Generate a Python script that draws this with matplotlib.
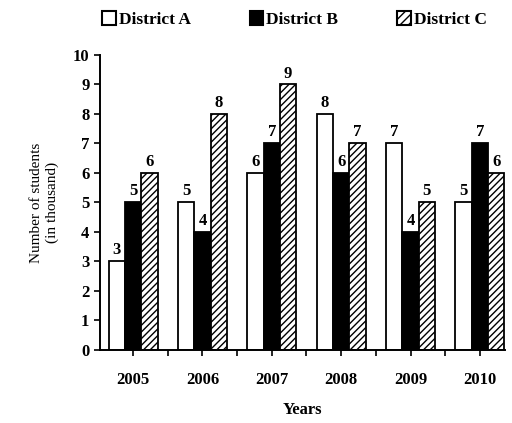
import numpy as np
import matplotlib
matplotlib.use('Agg')
import matplotlib.pyplot as plt
from matplotlib.patches import Patch

plt.rcParams.update({'font.family': 'Liberation Serif', 'font.weight': 'bold',
                     'hatch.linewidth': 1.0})

years = ['2005', '2006', '2007', '2008', '2009', '2010']
district_a = [3, 5, 6, 8, 7, 5]
district_b = [5, 4, 7, 6, 4, 7]
district_c = [6, 8, 9, 7, 5, 6]

fig = plt.figure(figsize=(5.12, 4.23), dpi=100)
ax = fig.add_axes([0.195, 0.173, 0.791, 0.697])

x = np.arange(len(years))
w = 0.235
bars_a = ax.bar(x - w, district_a, w, color='white', edgecolor='black', linewidth=1.3)
bars_b = ax.bar(x, district_b, w, color='black', edgecolor='black', linewidth=1.3)
bars_c = ax.bar(x + w, district_c, w, color='white', edgecolor='black', linewidth=1.3, hatch='/////')

for bars in (bars_a, bars_b, bars_c):
    for b in bars:
        ax.text(b.get_x() + b.get_width()/2, b.get_height() + 0.1, f'{int(b.get_height())}',
                ha='center', va='bottom', fontsize=12, fontweight='bold')

ax.set_xlim(-0.48, 5.36)
ax.set_ylim(0, 10)
ax.set_yticks(range(0, 11))
ax.set_xticks(x)
ax.set_xticklabels(years, fontsize=12, fontweight='bold')
ax.set_xticks(np.arange(-0.5, 5.5, 1.0)[1:], minor=True)
ax.tick_params(axis='x', which='both', length=4, width=1.2, pad=12)
ax.tick_params(axis='y', length=4, width=1.2, labelsize=12)
for sp in ['top', 'right']:
    ax.spines[sp].set_visible(False)
for sp in ['left', 'bottom']:
    ax.spines[sp].set_linewidth(1.4)

ax.set_xlabel('Years', fontsize=12, fontweight='bold', labelpad=10)
ax.set_ylabel('Number of students\n(in thousand)', fontsize=11, fontweight='normal', labelpad=10)

handles = [Patch(facecolor='white', edgecolor='black', linewidth=1.5),
           Patch(facecolor='black', edgecolor='black', linewidth=1.5),
           Patch(facecolor='white', edgecolor='black', linewidth=1.5, hatch='////')]
fig.legend(handles, ['District A', 'District B', 'District C'], ncol=3, frameon=False,
           loc='upper center', bbox_to_anchor=(0.575, 1.01), fontsize=12.5,
           handlelength=0.8, handleheight=0.8, handletextpad=0.15, columnspacing=3.4)

plt.savefig('out.png')
